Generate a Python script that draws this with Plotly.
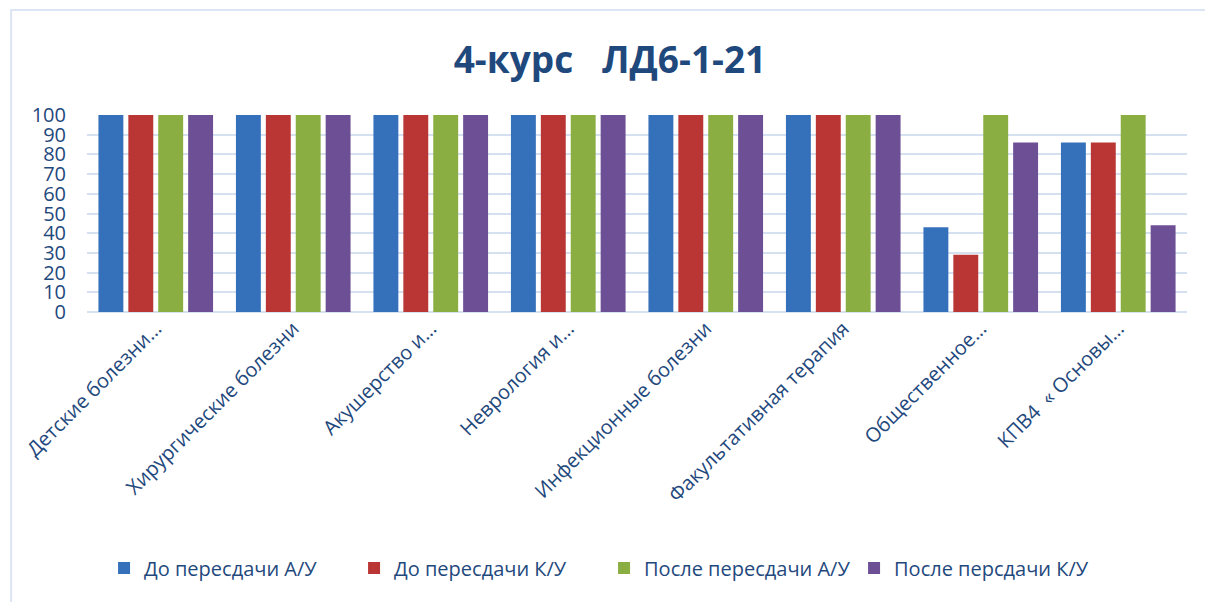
import plotly.graph_objects as go

categories = ["Детские болезни…", "Хирургические болезни", "Акушерство и…", "Неврология и…",
              "Инфекционные болезни", "Факультативная терапия", "Общественное…", "КПВ4  « Основы…"]
series_names = ["До пересдачи А/У", "До пересдачи К/У", "После пересдачи А/У", "После персдачи К/У"]
do_au = [100, 100, 100, 100, 100, 100, 43, 86]
do_ku = [100, 100, 100, 100, 100, 100, 29, 86]
posle_au = [100, 100, 100, 100, 100, 100, 100, 100]
posle_ku = [100, 100, 100, 100, 100, 100, 86, 44]
y_ticks = [0, 10, 20, 30, 40, 50, 60, 70, 80, 90, 100]

colors = ["#3571bb", "#b93634", "#8aae42", "#6d4f96"]
text_color = "#1f497d"
FONT = "Open Sans, Noto Sans, DejaVu Sans, sans-serif"

fig = go.Figure()
for name, vals, col in zip(series_names, [do_au, do_ku, posle_au, posle_ku], colors):
    fig.add_trace(go.Bar(x=categories, y=vals, name=name,
                         marker=dict(color=col, line=dict(width=0))))

# page is offset by 8px (body margin), so figure coords = page coords - 8
OFF = 8
W, H = 1213, 602
L, R, T, B = 85 - OFF, W - (1187 - OFF), 115 - OFF, H - (312 - OFF)
pw = W - L - R
ph = H - T - B

fig.update_layout(
    width=W, height=H,
    margin=dict(l=L, r=R, t=T, b=B),
    paper_bgcolor="white", plot_bgcolor="white",
    barmode="group", bargap=0.13, bargroupgap=0.167,
    title=dict(text="<b>4-курс\u00a0\u00a0\u00a0ЛД6-1-21</b>", x=(610 - OFF) / W, xanchor="center",
               y=1 - (60 - OFF) / H, yanchor="middle",
               font=dict(family=FONT, size=37, color=text_color)),
    font=dict(family=FONT, color=text_color),
    xaxis=dict(tickangle=-45, tickfont=dict(size=20, color=text_color),
               showgrid=False, showline=False, ticks=""),
    yaxis=dict(range=[0, 100], tickvals=y_ticks, tickfont=dict(size=20, color=text_color),
               showgrid=True, gridcolor="#d5e0f0", gridwidth=2, zeroline=True,
               zerolinecolor="#d5e0f0", zerolinewidth=2, showline=False,
               ticklabelstandoff=20),
    legend=dict(orientation="h", x=(603 - OFF - L) / pw, xanchor="center",
                y=-(568 - OFF - (T + ph)) / ph, yanchor="middle",
                font=dict(size=20, color=text_color), itemwidth=30,
                entrywidth=205, entrywidthmode="pixels",
                traceorder="normal"),
    shapes=[dict(type="rect", xref="paper", yref="paper",
                 x0=(1 - L) / pw, x1=1.2, y0=-3, y1=(T + ph - 2) / ph,
                 line=dict(color="#dbe5f3", width=2), fillcolor="rgba(0,0,0,0)",
                 layer="below")],
)

fig.write_html("out.html")
